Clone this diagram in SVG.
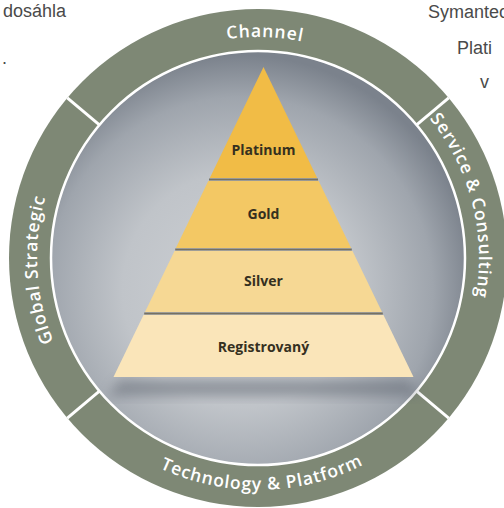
<svg xmlns="http://www.w3.org/2000/svg" width="504" height="508" viewBox="0 0 504 508">
  <style>
    .frag { font-family: "Liberation Sans", Arial, sans-serif; font-size: 18px; fill: #4a4a4a; }
    .ring { fill: #7e8875; }
    .sep { stroke: #ffffff; stroke-width: 3; fill: none; }
    .rlabel { font-family: "Open Sans", "Noto Sans", sans-serif; font-weight: 600; font-size: 17.5px; fill: #ffffff; letter-spacing: 0.9px; }
    .plabel { font-family: "Open Sans", "Noto Sans", sans-serif; font-weight: 700; font-size: 14px; fill: #35301f; text-anchor: middle; }
    .gap { stroke: #767161; stroke-width: 2; }
  </style>
  <defs>
    <radialGradient id="disk" cx="240" cy="290" r="235" gradientUnits="userSpaceOnUse">
      <stop offset="0" stop-color="#cdd0d4"/>
      <stop offset="0.5" stop-color="#c0c4c9"/>
      <stop offset="0.82" stop-color="#9fa5ad"/>
      <stop offset="1" stop-color="#7b828c"/>
    </radialGradient>
    <filter id="blur" x="-20%" y="-50%" width="140%" height="200%">
      <feGaussianBlur stdDeviation="6"/>
    </filter>
    <path id="pChannel" d="M 88.7 115.9 A 221 221 0 0 1 427.3 115.9"/>
    <path id="pService" d="M 368.5 66.6 A 221 221 0 0 1 368.5 449.4"/>
    <path id="pGlobal" d="M 147.5 449.4 A 221 221 0 0 1 147.5 66.6"/>
    <path id="pTech" d="M 57.1 374 A 232 232 0 0 0 458.9 374"/>
  </defs>

  <g id="fragments">
    <text class="frag" x="3" y="17">dosáhla</text>
    <text class="frag" x="2" y="64">.</text>
    <text class="frag" x="428" y="18">Symantec</text>
    <text class="frag" x="457" y="54">Plati</text>
    <text class="frag" x="480" y="88">v</text>
  </g>

  <g id="ring">
    <circle class="ring" cx="258" cy="258" r="249"/>
    <circle cx="258" cy="258" r="207" fill="url(#disk)" stroke="#ffffff" stroke-width="2.5"/>
  </g>

  <g id="connectors">
    <line class="sep" x1="99.4" y1="124.9" x2="67.3" y2="97.9"/>
    <line class="sep" x1="416.6" y1="124.9" x2="448.7" y2="97.9"/>
    <line class="sep" x1="99.4" y1="391.1" x2="67.3" y2="418.1"/>
    <line class="sep" x1="416.6" y1="391.1" x2="448.7" y2="418.1"/>
  </g>

  <g id="channel">
    <text class="rlabel"><textPath href="#pChannel" startOffset="51.8%" text-anchor="middle">Channel</textPath></text>
  </g>
  <g id="service-consulting">
    <text class="rlabel"><textPath href="#pService" startOffset="38%" text-anchor="middle">Service &amp; Consulting</textPath></text>
  </g>
  <g id="global-strategic">
    <text class="rlabel"><textPath href="#pGlobal" startOffset="47.4%" text-anchor="middle">Global Strategic</textPath></text>
  </g>
  <g id="technology-platform">
    <text class="rlabel"><textPath href="#pTech" startOffset="50.9%" text-anchor="middle">Technology &amp; Platform</textPath></text>
  </g>

  <g id="pyramid-shadow">
    <polygon points="120,380 408,380 420,396 108,396" fill="#5e6570" opacity="0.5" filter="url(#blur)"/>
  </g>

  <g id="registrovany">
    <polygon points="143.5,315 383.5,315 413.5,377 113.5,377" fill="#fae5b9"/>
    <text class="plabel" x="263.5" y="352">Registrovaný</text>
  </g>
  <g id="silver">
    <polygon points="174.5,251 352.5,251 382,312 145,312" fill="#f6d894"/>
    <text class="plabel" x="263.5" y="286">Silver</text>
  </g>
  <g id="gold">
    <polygon points="208.3,181 318.7,181 351.1,248 175.9,248" fill="#f3c864"/>
    <text class="plabel" x="263.5" y="219">Gold</text>
  </g>
  <g id="platinum">
    <polygon points="263.5,67 317.2,178 209.8,178" fill="#f1bc46"/>
    <text class="plabel" x="263.5" y="155">Platinum</text>
  </g>
  <g id="layer-gaps">
    <line class="gap" x1="209" y1="179.5" x2="318" y2="179.5"/>
    <line class="gap" x1="175.2" y1="249.5" x2="351.8" y2="249.5"/>
    <line class="gap" x1="144.2" y1="313.5" x2="382.8" y2="313.5"/>
  </g>
</svg>
